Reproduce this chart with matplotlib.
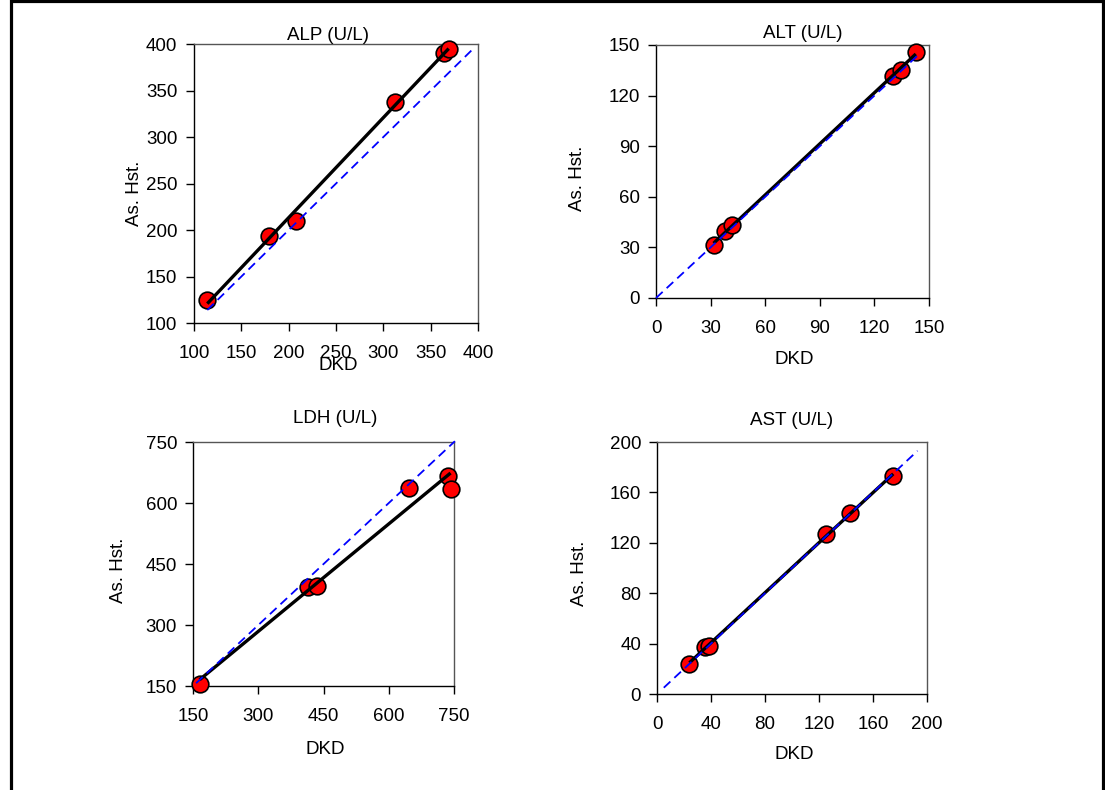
"""
DKD vs As. Hst. agreement plots for four enzymes
"""
import numpy as np
import matplotlib
matplotlib.use('Agg')
import matplotlib.pyplot as plt
from matplotlib.patches import Rectangle

plt.rcParams['font.family'] = ['Liberation Sans', 'DejaVu Sans']

# Data (DKD on x, As. Hst. on y)
alp_dkd = [114, 179, 208, 312, 364, 369]
alp_hst = [125, 194, 210, 338, 390, 395]

alt_dkd = [31.6, 38, 42, 130, 134.4, 142.7]
alt_hst = [31.5, 40, 43, 131.5, 135, 146]

ldh_dkd = [165, 414, 435, 646, 735, 742]
ldh_hst = [156, 394, 396, 638, 666, 634]

ast_dkd = [24, 35.5, 38.5, 125, 143, 175]
ast_hst = [24, 37, 38.5, 127, 143.5, 173]

titles = ['ALP (U/L)', 'ALT (U/L)', 'LDH (U/L)', 'AST (U/L)']
limits = [(100, 400), (0, 150), (150, 750), (0, 200)]
tick_steps = [50, 30, 150, 40]
# extent of the y = x reference line in each panel
ident_ranges = [(114, 396), (0, 145), (157, 752), (5, 193)]

fig = plt.figure(figsize=(11.05, 7.9), dpi=100)

# axes boxes in figure fractions
boxes = [
    [0.1756, 0.5911, 0.2570, 0.3532],
    [0.5937, 0.6228, 0.2471, 0.3203],
    [0.1747, 0.1316, 0.2362, 0.3089],
    [0.5946, 0.1215, 0.2443, 0.3190],
]
title_pos = [(0.472, 1.032), (0.538, 1.047), (0.544, 1.098), (0.500, 1.087)]
xlabel_pos = [(0.507, -0.122), (0.505, -0.209), (0.506, -0.225), (0.507, -0.206)]
ylabel_pos = [(-0.18, 0.466), (-0.256, 0.474), (-0.253, 0.475), (-0.256, 0.48)]
ytick_pad = [6.5, 6, 6, 6]

series = [(alp_dkd, alp_hst), (alt_dkd, alt_hst), (ldh_dkd, ldh_hst), (ast_dkd, ast_hst)]
fs = 13.5

for i, (x, y) in enumerate(series):
    ax = fig.add_axes(boxes[i])
    x = np.array(x)
    y = np.array(y)

    ax.plot(x, y, 'o', ms=12, mfc='#ff0000', mec='black', mew=1.2,
            clip_on=False, zorder=3)

    # least squares fit over the data range
    slope, icpt = np.polyfit(x, y, 1)
    xf = np.array([x.min(), x.max()])
    ax.plot(xf, slope * xf + icpt, color='black', lw=2.4, zorder=4,
            solid_capstyle='butt', clip_on=False)

    # line of identity
    lo, hi = ident_ranges[i]
    ax.plot([lo, hi], [lo, hi], color='#0000ff', lw=1.3,
            linestyle=(0, (5, 3)), zorder=5, clip_on=False)

    lo_lim, hi_lim = limits[i]
    ticks = np.arange(lo_lim, hi_lim + 1, tick_steps[i])
    ax.set_xlim(lo_lim, hi_lim)
    ax.set_ylim(lo_lim, hi_lim)
    ax.set_xticks(ticks)
    ax.set_yticks(ticks)

    ax.tick_params(axis='x', direction='out', length=6, width=1, labelsize=fs, pad=10)
    ax.tick_params(axis='y', direction='out', length=5.5, width=1, labelsize=fs,
                   pad=ytick_pad[i])
    for s in ['left', 'bottom']:
        ax.spines[s].set_color('black')
        ax.spines[s].set_linewidth(1)
    for s in ['top', 'right']:
        ax.spines[s].set_color('#555555')
        ax.spines[s].set_linewidth(1)

    ax.set_xlabel('DKD', fontsize=fs)
    ax.set_ylabel('As. Hst.', fontsize=fs)
    ax.xaxis.set_label_coords(*xlabel_pos[i])
    ax.yaxis.set_label_coords(*ylabel_pos[i])

    tx, ty = title_pos[i]
    ax.text(tx, ty, titles[i], transform=ax.transAxes, ha='center', va='center',
            fontsize=fs)

# outer frame (open at the bottom edge, as in the source)
fig.add_artist(Rectangle((10.5 / 1105, -0.1), (1102.5 - 10.5) / 1105, 1.1 - 1.2 / 790,
                         transform=fig.transFigure, fill=False, lw=2.3,
                         edgecolor='black'))

plt.savefig('out.png', dpi=100)
